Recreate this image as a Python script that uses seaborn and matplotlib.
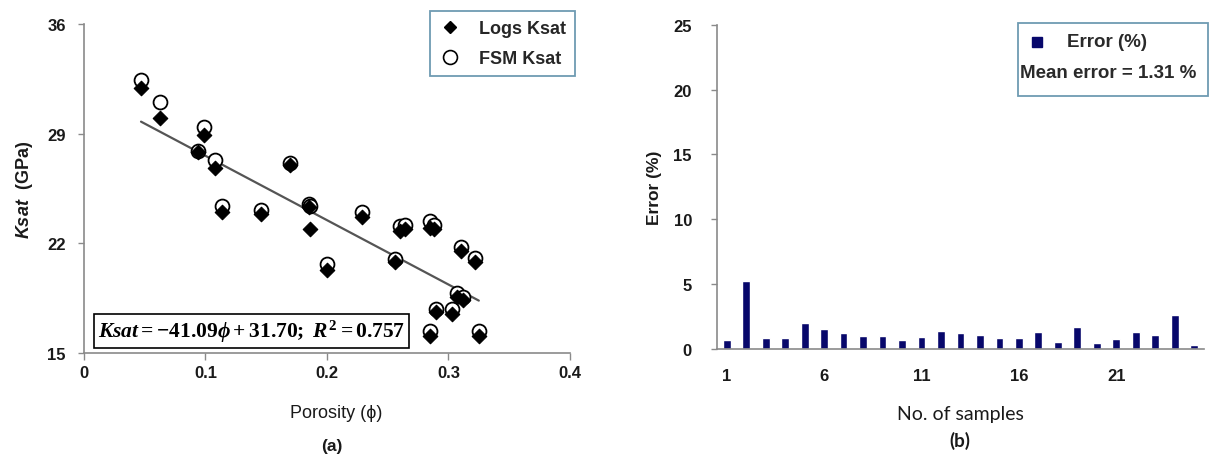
import matplotlib
matplotlib.use("Agg")
import numpy as np
import pandas as pd
import matplotlib.pyplot as plt
import seaborn as sns
from matplotlib.lines import Line2D
from matplotlib.patches import Rectangle

# (a) porosity vs Ksat, logs and FSM
porosity = [0.047, 0.063, 0.094, 0.099, 0.108, 0.114, 0.146, 0.170, 0.185, 0.186,
            0.200, 0.229, 0.256, 0.260, 0.264, 0.285, 0.288, 0.310, 0.322, 0.307,
            0.312, 0.290, 0.303, 0.285, 0.325]
logs_ksat = [31.9, 30.0, 27.8, 28.9, 26.8, 24.0, 23.9, 27.0, 24.3, 22.9,
             20.3, 23.7, 20.8, 22.8, 22.9, 23.0, 22.9, 21.5, 20.8, 18.6,
             18.4, 17.6, 17.5, 16.1, 16.1]
fsm_ksat = [32.4, 31.0, 27.9, 29.4, 27.3, 24.4, 24.1, 27.1, 24.5, 24.4,
            20.7, 24.0, 21.0, 23.1, 23.2, 23.45, 23.2, 21.75, 21.05, 18.8,
            18.6, 17.8, 17.8, 16.4, 16.4]
fit_slope = -41.09
fit_intercept = 31.70
fit_r2 = 0.757

# (b) error per sample
sample_no = [1, 2, 3, 4, 5, 6, 7, 8, 9, 10, 11, 12, 13,
             14, 15, 16, 17, 18, 19, 20, 21, 22, 23, 24, 25]
error_pct = [0.65, 5.2, 0.85, 0.85, 1.94, 1.47, 1.16, 0.98, 0.98, 0.67, 0.88, 1.37, 1.19,
             1.06, 0.85, 0.85, 1.29, 0.52, 1.63, 0.41, 0.72, 1.29, 1.06, 2.58, 0.28]
mean_error = 1.31

sns.set_style("white")
plt.rcParams['font.family'] = ['Liberation Sans', 'DejaVu Sans']
plt.rcParams['mathtext.fontset'] = 'custom'
plt.rcParams['mathtext.rm'] = 'Liberation Serif:bold'
plt.rcParams['mathtext.it'] = 'Liberation Serif:italic:bold'
plt.rcParams['mathtext.bf'] = 'Liberation Serif:bold'
plt.rcParams['mathtext.sf'] = 'Liberation Sans:italic:bold'

navy = '#07076b'
spine_grey = '#8a8a8a'
frame_blue = '#6e9bb2'
txt = '#1a1a1a'

df_a = pd.DataFrame({'porosity': porosity, 'logs': logs_ksat, 'fsm': fsm_ksat})
df_b = pd.DataFrame({'sample': sample_no, 'error': error_pct})

fig = plt.figure(figsize=(12.16, 4.6), dpi=100)
ax1 = fig.add_axes([0.069, 0.2304, 0.3997, 0.7152])
ax2 = fig.add_axes([0.5896, 0.2402, 0.4005, 0.7033])

# ---- panel (a)
sns.scatterplot(data=df_a, x='porosity', y='fsm', marker='o', s=100, color='white',
                edgecolor='black', linewidth=1.3, ax=ax1, zorder=3)
sns.scatterplot(data=df_a, x='porosity', y='logs', marker='D', s=55, color='black',
                edgecolor='black', linewidth=0.8, ax=ax1, zorder=4)
fit_x = np.array([min(porosity), max(porosity)])
sns.lineplot(x=fit_x, y=fit_intercept + fit_slope * fit_x, color='#555555', lw=1.6,
             ax=ax1, zorder=2)

ax1.set_xlim(0, 0.4)
ax1.set_ylim(15, 36)
ax1.set_xticks([0, 0.1, 0.2, 0.3, 0.4])
ax1.set_xticklabels(['0', '0.1', '0.2', '0.3', '0.4'])
ax1.set_yticks([15, 22, 29, 36])

eq = rf'$Ksat = {fit_slope:.2f}\phi + {fit_intercept:.2f};\ R^2 = {fit_r2:.3f}$'
ax1.text(0.345, 0.068, eq, transform=ax1.transAxes, ha='center', va='center',
         fontsize=15.5, color='black', zorder=5,
         bbox=dict(boxstyle='square,pad=0.18', fc='white', ec='black', lw=1.2))

handles = [Line2D([], [], marker='D', color='black', ls='', markersize=6.5),
           Line2D([], [], marker='o', mfc='white', mec='black', mew=1.2, ls='', markersize=10)]
leg = ax1.legend(handles, ['Logs Ksat', 'FSM Ksat'], loc='upper right',
                 bbox_to_anchor=(1.01, 1.04), frameon=True, fancybox=False, framealpha=1,
                 edgecolor=frame_blue, prop={'size': 13, 'weight': 'bold'},
                 handlelength=1.2, handletextpad=1.0, borderpad=0.5, labelspacing=0.75,
                 borderaxespad=0)
leg.get_frame().set_linewidth(1.3)

ax1.set_xlabel('Porosity (ϕ)', fontsize=13, color=txt)
ax1.xaxis.set_label_coords(0.52, -0.182)
ax1.xaxis.label.set_va('center')
ax1.set_ylabel(r'$\mathsf{Ksat}$  (GPa)', fontsize=13, fontweight='bold', color=txt)
ax1.yaxis.set_label_coords(-0.122, 0.498)
ax1.yaxis.label.set_va('center')

# ---- panel (b)
sns.barplot(data=df_b, x='sample', y='error', color=navy, saturation=1, width=0.4, ax=ax2)
ax2.set_xlim(-0.5, len(sample_no) - 0.5)
ax2.set_ylim(0, 25)
ax2.set_yticks([0, 5, 10, 15, 20, 25])
lab_pos = [0, 5, 10, 15, 20]
ax2.set_xticks(lab_pos)
ax2.set_xticklabels([str(sample_no[i]) for i in lab_pos])
ax2.set_xticks([p + 4.5 for p in lab_pos], minor=True)
ax2.tick_params(axis='x', which='major', length=0, pad=14)
ax2.tick_params(axis='x', which='minor', length=5, width=1, color=spine_grey)

ax2.set_xlabel('No. of samples', fontsize=14, family=['Lato', 'DejaVu Sans'], color=txt)
ax2.xaxis.set_label_coords(0.50, -0.20)
ax2.xaxis.label.set_va('center')
ax2.set_ylabel('Error (%)', fontsize=12.5, fontweight='bold', color=txt)
ax2.yaxis.set_label_coords(-0.128, 0.50)
ax2.yaxis.label.set_va('center')

# legend box with mean error
ax2.add_patch(Rectangle((0.618, 0.78), 0.39, 0.226, transform=ax2.transAxes, fc='white',
                        ec=frame_blue, lw=1.3, clip_on=False, zorder=5))
ax2.plot([0.657], [0.948], marker='s', ms=7, color=navy, transform=ax2.transAxes,
         clip_on=False, zorder=6)
ax2.text(0.719, 0.948, 'Error (%)', transform=ax2.transAxes, ha='left', va='center',
         fontsize=13.5, fontweight='bold', color='#2a2a2a', zorder=6)
ax2.text(0.623, 0.852, f'Mean error = {mean_error:.2f} %', transform=ax2.transAxes,
         ha='left', va='center', fontsize=13.5, fontweight='bold', color='#2a2a2a', zorder=6)

for ax in (ax1, ax2):
    for side in ('top', 'right'):
        ax.spines[side].set_visible(False)
    for side in ('left', 'bottom'):
        ax.spines[side].set_color(spine_grey)
        ax.spines[side].set_linewidth(1.2)
    ax.tick_params(axis='both', which='major', labelsize=12, labelcolor=txt)
    ax.tick_params(axis='y', length=4, width=1, color=spine_grey, direction='out', left=True)
    for t in ax.get_xticklabels() + ax.get_yticklabels():
        t.set_fontweight('bold')
ax1.tick_params(axis='x', length=5, width=1, color=spine_grey, direction='out', bottom=True)
ax1.tick_params(axis='y', pad=9)
ax2.tick_params(axis='y', pad=14)

fig.text(332 / 1216, 1 - 447 / 460, '(a)', ha='center', va='center', fontsize=12.5,
         fontweight='bold', color=txt)
fig.text(960 / 1216, 1 - 441 / 460, '(b)', ha='center', va='center', fontsize=13.5,
         fontweight='bold', family=['Lato', 'DejaVu Sans'], color=txt)

fig.savefig('out.png', dpi=100, facecolor='white')
